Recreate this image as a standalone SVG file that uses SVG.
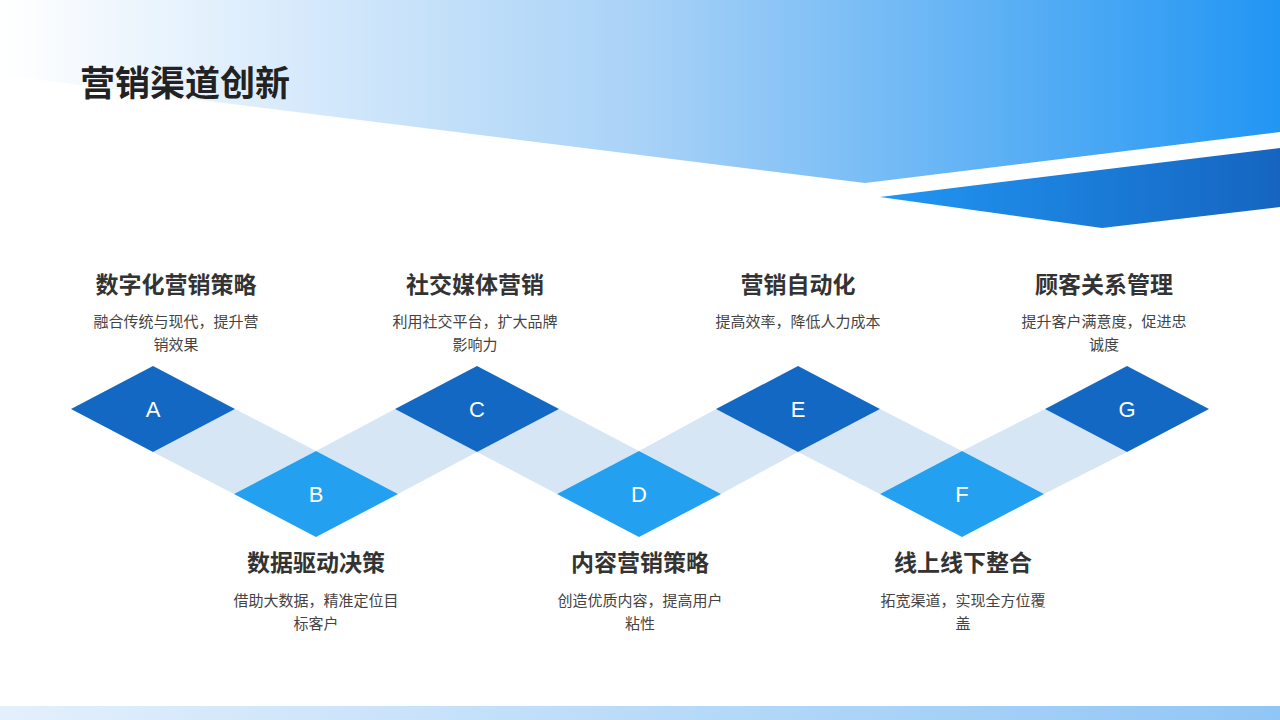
<svg xmlns="http://www.w3.org/2000/svg" width="1280" height="720" viewBox="0 0 1280 720">
<defs>
<linearGradient id="g1" x1="0" x2="1" y1="0" y2="0"><stop offset="0" stop-color="#fff"/><stop offset="0.5" stop-color="#a9d2f7"/><stop offset="1" stop-color="#2196f3"/></linearGradient>
<linearGradient id="g2" x1="0" x2="1" y1="0" y2="0"><stop offset="0" stop-color="#2196f3"/><stop offset="1" stop-color="#1565c0"/></linearGradient>
<linearGradient id="g3" x1="0" x2="1" y1="0" y2="0"><stop offset="0" stop-color="#e3f0fc"/><stop offset="1" stop-color="#90c6f5"/></linearGradient>
<style>
.t{font-family:"Noto Sans CJK SC","Noto Sans",sans-serif;font-weight:bold;font-size:23px;fill:#333;text-anchor:middle}
.d{font-family:"Noto Sans CJK SC","Noto Sans",sans-serif;font-size:15px;fill:#444;text-anchor:middle}
.l{font-family:"Liberation Sans","Noto Sans",sans-serif;font-size:22px;fill:#fff;text-anchor:middle}
.band{fill:#d7e6f5}
.dk{fill:#1268c3}.lt{fill:#23a0f0}
</style>
</defs>
<rect width="1280" height="720" fill="#fff"/>
<polygon points="0,0 1280,0 1280,132 865,183 0,75" fill="url(#g1)"/>
<polygon points="880,197 1280,148 1280,207 1102,228" fill="url(#g2)"/>
<rect x="0" y="706" width="1280" height="14" fill="url(#g3)"/>
<text x="80" y="96" font-family="Noto Sans CJK SC,sans-serif" font-weight="bold" font-size="35" fill="#222">营销渠道创新</text>
<g id="connectors">
<polygon class="band" points="235,409 316,451 234,494 153,452"/>
<polygon class="band" points="316,451 395,409 477,452 398,494"/>
<polygon class="band" points="559,409 639,451 557,494 477,452"/>
<polygon class="band" points="639,451 716,409 798,452 721,494"/>
<polygon class="band" points="880,409 962,451 880,494 798,452"/>
<polygon class="band" points="962,451 1045,409 1127,452 1044,494"/>
</g>
<g id="A"><polygon class="dk" points="71,409 153,366 235,409 153,452"/><text class="l" x="153" y="417">A</text>
<text class="t" x="176" y="293">数字化营销策略</text><text class="d" x="176" y="327">融合传统与现代，提升营</text><text class="d" x="176" y="350">销效果</text></g>
<g id="B"><polygon class="lt" points="234,494 316,451 398,494 316,537"/><text class="l" x="316" y="502">B</text>
<text class="t" x="316" y="571">数据驱动决策</text><text class="d" x="316" y="606">借助大数据，精准定位目</text><text class="d" x="316" y="629">标客户</text></g>
<g id="C"><polygon class="dk" points="395,409 477,366 559,409 477,452"/><text class="l" x="477" y="417">C</text>
<text class="t" x="475" y="293">社交媒体营销</text><text class="d" x="475" y="327">利用社交平台，扩大品牌</text><text class="d" x="475" y="350">影响力</text></g>
<g id="D"><polygon class="lt" points="557,494 639,451 721,494 639,537"/><text class="l" x="639" y="502">D</text>
<text class="t" x="640" y="571">内容营销策略</text><text class="d" x="640" y="606">创造优质内容，提高用户</text><text class="d" x="640" y="629">粘性</text></g>
<g id="E"><polygon class="dk" points="716,409 798,366 880,409 798,452"/><text class="l" x="798" y="417">E</text>
<text class="t" x="798" y="293">营销自动化</text><text class="d" x="798" y="327">提高效率，降低人力成本</text></g>
<g id="F"><polygon class="lt" points="880,494 962,451 1044,494 962,537"/><text class="l" x="962" y="502">F</text>
<text class="t" x="963" y="571">线上线下整合</text><text class="d" x="963" y="606">拓宽渠道，实现全方位覆</text><text class="d" x="963" y="629">盖</text></g>
<g id="G"><polygon class="dk" points="1045,409 1127,366 1209,409 1127,452"/><text class="l" x="1127" y="417">G</text>
<text class="t" x="1104" y="293">顾客关系管理</text><text class="d" x="1104" y="327">提升客户满意度，促进忠</text><text class="d" x="1104" y="350">诚度</text></g>
</svg>
